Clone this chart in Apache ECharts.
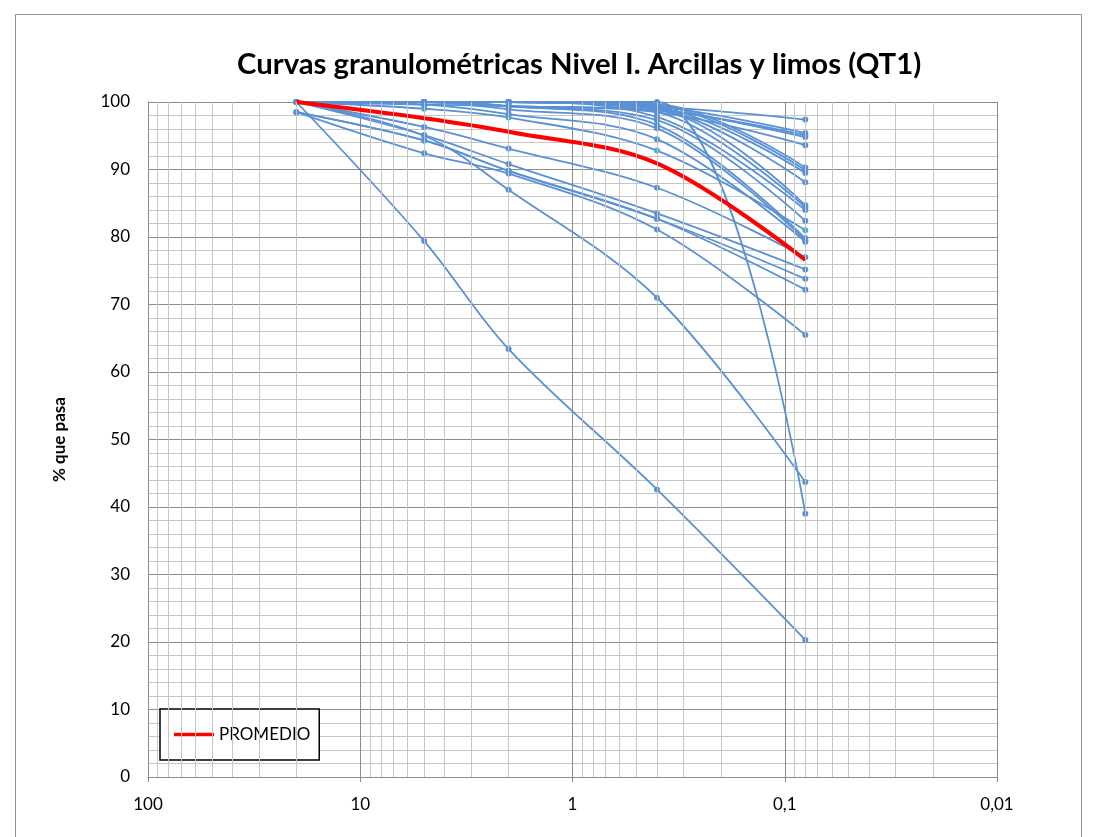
<!DOCTYPE html>
<html><head><meta charset="utf-8">
<script src="https://cdn.jsdelivr.net/npm/echarts@6/dist/echarts.min.js"></script>
<style>html,body{margin:0;padding:0;background:#fff}#c{width:1096px;height:837px}</style>
</head><body><div id="c"></div>
<script>
// Sieve openings (mm), x positions of every curve
const sieves = [20, 5, 2, 0.4, 0.08];
// x tick labels by decade exponent (-2..2)
const xTickLabels = {'-2':'0,01','-1':'0,1','0':'1','1':'10','2':'100'};
// Individual sample curves (% passing at each sieve)
const c01 = [100, 79.4, 63.4, 42.6, 20.3];
const c02 = [100, 100, 100, 100, 39.0];
const c03 = [100, 95.0, 87.0, 71.0, 43.7];
const c04 = [98.5, 92.4, 89.4, 81.1, 65.5];
const c05 = [98.5, 94.3, 89.8, 82.7, 72.2];
const c06 = [100, 95.1, 90.8, 83.5, 75.2];
const c07 = [98.5, 94.3, 89.8, 82.7, 73.8];
const c08 = [100, 96.3, 93.1, 87.3, 77.0];
const c09 = [100, 99.0, 97.7, 92.8, 81.0];
const c10 = [100, 99.6, 98.2, 94.5, 79.3];
const c11 = [100, 100, 98.9, 96.1, 79.5];
const c12 = [100, 100, 99.4, 96.6, 79.8];
const c13 = [100, 100, 99.4, 97.3, 82.4];
const c14 = [100, 100, 100, 97.8, 84.0];
const c15 = [100, 100, 100, 98.5, 84.4];
const c16 = [100, 100, 99.4, 98.8, 84.7];
const c17 = [100, 100, 100, 99.0, 88.1];
const c18 = [100, 100, 100, 99.2, 89.5];
const c19 = [100, 100, 100, 99.5, 89.9];
const c20 = [100, 100, 100, 99.7, 90.3];
const c21 = [100, 99.6, 99.4, 98.5, 93.6];
const c22 = [100, 100, 100, 99.0, 94.8];
const c23 = [100, 100, 99.4, 98.8, 95.1];
const c24 = [100, 100, 100, 99.3, 95.4];
const c25 = [100, 100, 100, 99.3, 97.4];
// Average curve
const promedio = [100, 97.6, 95.6, 90.9, 76.6];

const curves = [c01,c02,c03,c04,c05,c06,c07,c08,c09,c10,c11,c12,c13,c14,c15,c16,c17,c18,c19,c20,c21,c22,c23,c24,c25];
const tealCurve = 8; // index of the curve with teal markers

// minor log gridline positions (2..9 of each decade)
const minorX = [];
[0.01,0.1,1,10].forEach(d => { for (let k=2;k<=9;k++) minorX.push(+(d*k).toPrecision(3)); });

const FONT = 'Lato, Carlito, Calibri, "Open Sans", sans-serif';
const BLUE = '#5a91d5';
const series = [];
series.push({
  type:'line', data:[], silent:true, z:1,
  markLine:{silent:true, symbol:['none','none'], label:{show:false}, animation:false,
    lineStyle:{color:'#c6c6c6', width:1, type:'solid'},
    emphasis:{disabled:true},
    data: minorX.map(v => ({xAxis:v}))}
});
curves.forEach((c, i) => {
  series.push({
    type:'line', name:'s'+(i+1), smooth:0.35,
    data: sieves.map((x, j) => [x, c[j]]),
    symbol:'circle', symbolSize:6, showSymbol:true,
    lineStyle:{color:BLUE, width:1.8},
    itemStyle:{color: i === tealCurve ? '#4bacc6' : BLUE},
    emphasis:{disabled:true}, z:2
  });
});
series.push({
  type:'line', name:'PROMEDIO', smooth:0.35,
  data: sieves.map((x, j) => [x, promedio[j]]),
  symbol:'none', showSymbol:false,
  lineStyle:{color:'#ff0000', width:4},
  itemStyle:{color:'#ff0000'},
  emphasis:{disabled:true}, z:3
});

const chart = echarts.init(document.getElementById('c'), null, {renderer:'canvas'});
chart.setOption({
  animation:false,
  backgroundColor:'#fff',
  title:{text:'Curvas granulométricas Nivel I. Arcillas y limos (QT1)', left:232, top:45,
    textStyle:{fontFamily:FONT, fontWeight:'bold', fontSize:29.3, color:'#000'}},
  graphic:[{type:'rect', shape:{x:15.5, y:14.5, width:1066, height:850},
    style:{fill:'none', stroke:'#8f8f8f', lineWidth:1}, silent:true, z:-10}],
  legend:{data:['PROMEDIO'], left:160, top:709, orient:'horizontal',
    icon:'rect', itemWidth:40, itemHeight:3.5, itemGap:5,
    padding:[17, 9, 17, 14], borderColor:'#000', borderWidth:1.5, backgroundColor:'#fff',
    textStyle:{fontFamily:FONT, fontSize:17, color:'#000'}},
  grid:{left:148, top:102, right:99, bottom:60, containLabel:false,
    show:false},
  xAxis:{type:'log', logBase:10, min:0.01, max:100, inverse:true,
    axisLine:{show:true, lineStyle:{color:'#8c8c8c', width:1}},
    axisTick:{show:true, length:5, lineStyle:{color:'#8c8c8c'}},
    axisLabel:{fontFamily:FONT, fontSize:17, color:'#000', margin:19,
      formatter: v => xTickLabels[String(Math.round(Math.log10(v)))] || ''},
    splitLine:{show:true, lineStyle:{color:'#8c8c8c', width:1}}},
  yAxis:{type:'value', min:0, max:100, interval:10,
    name:'% que pasa', nameLocation:'middle', nameGap:80, nameRotate:90,
    nameTextStyle:{fontFamily:FONT, fontSize:17, fontWeight:'bold', color:'#000'},
    axisLine:{show:true, lineStyle:{color:'#8c8c8c'}},
    axisTick:{show:false},
    axisLabel:{fontFamily:FONT, fontSize:17, color:'#000', margin:18},
    splitLine:{show:true, lineStyle:{color:'#8c8c8c', width:1}},
    minorTick:{show:false, splitNumber:5},
    minorSplitLine:{show:true, lineStyle:{color:'#c6c6c6', width:1}}},
  series: series
});
</script></body></html>
